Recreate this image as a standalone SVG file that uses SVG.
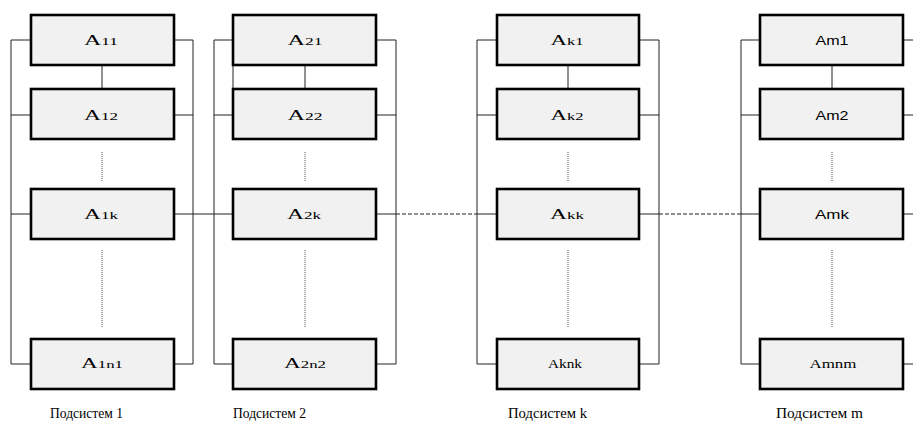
<svg xmlns="http://www.w3.org/2000/svg" width="913" height="422" viewBox="0 0 913 422">
<style>
.box{fill:#f1f1f1;stroke:#000;stroke-width:2.6}
.ln{stroke:#222;stroke-width:1;fill:none}
.dot{stroke:#555;stroke-width:1;stroke-dasharray:1 1;fill:none}
.dash{stroke:#222;stroke-width:1;stroke-dasharray:4 2;fill:none}
.t{font-family:"Liberation Serif","Times New Roman",serif;fill:#000;text-anchor:middle}
.big{font-size:14.5px}
.sub{font-size:10.5px}
.s{font-family:"Liberation Sans",Arial,sans-serif;font-size:13px;fill:#000;text-anchor:middle}
.lab{font-family:"Liberation Serif","Times New Roman",serif;font-size:15px;fill:#000;text-anchor:middle}
</style>
<g id="connectors">
  <path class="ln" d="M31,40H11V364H31M31,115H11M174,40H193V364H174M174,115H193"/>
  <path class="ln" d="M102,65V89"/>
  <path class="dot" d="M102,152V181M102,250V327"/>
  <path class="ln" d="M233,40H214V364H233M233,115H214M376,40H396V364H376M376,115H396"/>
  <path class="ln" d="M305,65V89M233,65V89"/>
  <path class="dot" d="M305,152V181M305,250V327"/>
  <path class="ln" d="M497,40H477V364H497M497,115H477M639,40H659V364H639M639,115H659"/>
  <path class="ln" d="M568,65V89"/>
  <path class="dot" d="M568,152V181M568,250V327"/>
  <path class="ln" d="M760,40H741V364H760M760,115H741M903,40H913M903,115H913M903,364H913"/>
  <path class="ln" d="M832,65V89"/>
  <path class="dot" d="M832,152V181M832,250V327"/>
  <path class="ln" d="M174,214H233M376,214H396M477,214H497M639,214H659M741,214H760M903,214H913M11,214H31"/>
  <path class="dash" d="M396,214H477M659,214H741"/>
</g>
<g id="A11"><rect class="box" x="31" y="15" width="143" height="50"/><text class="t" x="101" y="45" textLength="34" lengthAdjust="spacingAndGlyphs"><tspan class="big">A</tspan><tspan class="sub">11</tspan></text></g>
<g id="A12"><rect class="box" x="31" y="89" width="143" height="50"/><text class="t" x="101" y="120" textLength="34" lengthAdjust="spacingAndGlyphs"><tspan class="big">A</tspan><tspan class="sub">12</tspan></text></g>
<g id="A1k"><rect class="box" x="31" y="189" width="143" height="50"/><text class="t" x="101" y="219" textLength="34" lengthAdjust="spacingAndGlyphs"><tspan class="big">A</tspan><tspan class="sub">1k</tspan></text></g>
<g id="A1n1"><rect class="box" x="31" y="339" width="143" height="50"/><text class="t" x="102" y="368" textLength="42" lengthAdjust="spacingAndGlyphs"><tspan class="big">A</tspan><tspan class="sub">1n1</tspan></text></g>

<g id="A21"><rect class="box" x="233" y="15" width="143" height="50"/><text class="t" x="305" y="45" textLength="35" lengthAdjust="spacingAndGlyphs"><tspan class="big">A</tspan><tspan class="sub">21</tspan></text></g>
<g id="A22"><rect class="box" x="233" y="89" width="143" height="50"/><text class="t" x="305" y="120" textLength="35" lengthAdjust="spacingAndGlyphs"><tspan class="big">A</tspan><tspan class="sub">22</tspan></text></g>
<g id="A2k"><rect class="box" x="233" y="189" width="143" height="50"/><text class="t" x="304" y="219" textLength="34" lengthAdjust="spacingAndGlyphs"><tspan class="big">A</tspan><tspan class="sub">2k</tspan></text></g>
<g id="A2n2"><rect class="box" x="233" y="339" width="143" height="50"/><text class="t" x="305" y="368" textLength="42" lengthAdjust="spacingAndGlyphs"><tspan class="big">A</tspan><tspan class="sub">2n2</tspan></text></g>

<g id="Ak1"><rect class="box" x="497" y="15" width="142" height="50"/><text class="t" x="567" y="45" textLength="33" lengthAdjust="spacingAndGlyphs"><tspan class="big">A</tspan><tspan class="sub">k1</tspan></text></g>
<g id="Ak2"><rect class="box" x="497" y="89" width="142" height="50"/><text class="t" x="567" y="120" textLength="33" lengthAdjust="spacingAndGlyphs"><tspan class="big">A</tspan><tspan class="sub">k2</tspan></text></g>
<g id="Akk"><rect class="box" x="497" y="189" width="142" height="50"/><text class="t" x="567" y="219" textLength="34" lengthAdjust="spacingAndGlyphs"><tspan class="big">A</tspan><tspan class="sub">kk</tspan></text></g>
<g id="Aknk"><rect class="box" x="497" y="339" width="142" height="50"/><text class="t" x="565" y="368" textLength="34" lengthAdjust="spacingAndGlyphs" font-size="12">Aknk</text></g>

<g id="Am1"><rect class="box" x="760" y="15" width="143" height="50"/><text class="s" x="832" y="45" textLength="33" lengthAdjust="spacingAndGlyphs">Am1</text></g>
<g id="Am2"><rect class="box" x="760" y="89" width="143" height="50"/><text class="s" x="832" y="120" textLength="33" lengthAdjust="spacingAndGlyphs">Am2</text></g>
<g id="Amk"><rect class="box" x="760" y="189" width="143" height="50"/><text class="s" x="832" y="219" textLength="34" lengthAdjust="spacingAndGlyphs">Amk</text></g>
<g id="Amnm"><rect class="box" x="760" y="339" width="143" height="50"/><text class="t" x="833" y="368" textLength="47" lengthAdjust="spacingAndGlyphs" font-size="12">Amnm</text></g>

<g id="labels">
  <text class="lab" x="86.5" y="418" textLength="73" lengthAdjust="spacingAndGlyphs">Подсистем 1</text>
  <text class="lab" x="269.5" y="418" textLength="73" lengthAdjust="spacingAndGlyphs">Подсистем 2</text>
  <text class="lab" x="547.5" y="418" textLength="79" lengthAdjust="spacingAndGlyphs">Подсистем k</text>
  <text class="lab" x="819.5" y="418" textLength="87" lengthAdjust="spacingAndGlyphs">Подсистем m</text>
</g>
</svg>
